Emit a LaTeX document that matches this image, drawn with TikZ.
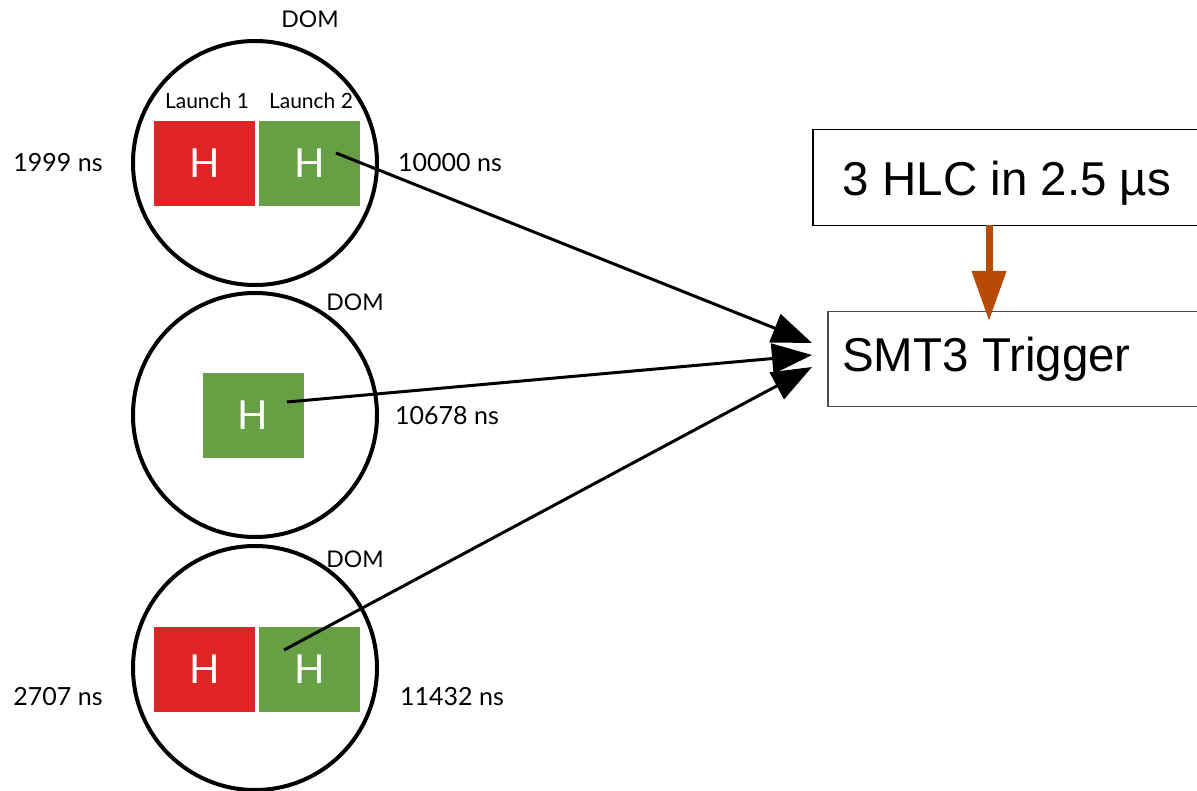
\documentclass[tikz,border=0pt]{standalone}
\usepackage{fontspec}
\setmainfont{Lato}
\newfontfamily\arialfont{Liberation Sans}
\usetikzlibrary{arrows.meta}
\definecolor{hred}{HTML}{E12426}
\definecolor{hgreen}{HTML}{67A044}
\definecolor{horange}{HTML}{B84A06}
\tikzset{
  dom/.style={draw=black, line width=4pt, circle, minimum size=244pt, inner sep=0pt},
  hbox/.style={minimum width=101pt, minimum height=85pt, inner sep=0pt, text=white, font=\fontsize{40}{44}\selectfont},
  redbox/.style={hbox, fill=hred},
  greenbox/.style={hbox, fill=hgreen},
  lab/.style={font=\fontsize{21}{23}\selectfont, inner sep=0pt},
  domlab/.style={font=\fontsize{23}{25}\selectfont, inner sep=0pt},
  ns/.style={font=\fontsize{25}{27}\selectfont, inner sep=0pt},
  conn/.style={line width=3pt, -{Triangle[length=40pt,width=30pt]}},
  bigtext/.style={font=\arialfont\fontsize{47.5}{52}\selectfont, inner sep=0pt},
  trig/.style={draw=black!70, line width=1.5pt, inner sep=0pt},
}
\begin{document}
\begin{tikzpicture}[x=1pt,y=-1pt]
\useasboundingbox (0,0) rectangle (1197,791);
% circles
\node[dom] (c1) at (255,163) {};
\node[dom] (c2) at (255,415) {};
\node[dom] (c3) at (255,668) {};
% DOM labels
\node[domlab] (d1) at (310,19) {DOM};
\node[domlab] (d2) at (355,302) {DOM};
\node[domlab] (d3) at (355,559) {DOM};
% launch labels
\node[lab] (l1) at (207,101) {Launch 1};
\node[lab] (l2) at (311,101) {Launch 2};
% boxes
\node[redbox] (r1) at (204.5,163.5) {H};
\node[greenbox] (g1) at (309.5,163.5) {H};
\node[greenbox] (g2) at (253,415.5) {H};
\node[redbox] (r3) at (204.5,669) {H};
\node[greenbox] (g3) at (309.5,669) {H};
% ns labels
\node[ns] (n1) at (58,163) {1999 ns};
\node[ns] (n2) at (450,163) {10000 ns};
\node[ns] (n3) at (447,416) {10678 ns};
\node[ns] (n4) at (58,697) {2707 ns};
\node[ns] (n5) at (452,697) {11432 ns};
% trigger boxes
\node[trig, draw=black, minimum width=390pt, minimum height=96pt, anchor=north west] (hlc) at (812,129) {};
\node[bigtext] (hlct) at (1007,183) {3 HLC in 2.5 µs};
\node[trig, minimum width=390pt, minimum height=95pt, anchor=north west] (smt) at (827,311) {};
\node[bigtext, anchor=base west] (smtt) at (842,372) {SMT3 Trigger};
% connector coordinates
\coordinate (s1) at (336,153);
\coordinate (s2) at (287,402);
\coordinate (s3) at (284,650);
\coordinate (t1) at (812,343);
\coordinate (t2) at (812,355);
\coordinate (t3) at (812,367);
\coordinate (os) at (989,225);
\coordinate (ot) at (989,321);
\draw[conn] (s1) -- (t1);
\draw[conn] (s2) -- (t2);
\draw[conn] (s3) -- (t3);
\draw[horange, line width=7pt, -{Triangle[length=50pt,width=33pt]}] (os) -- (ot);
\end{tikzpicture}
\end{document}
